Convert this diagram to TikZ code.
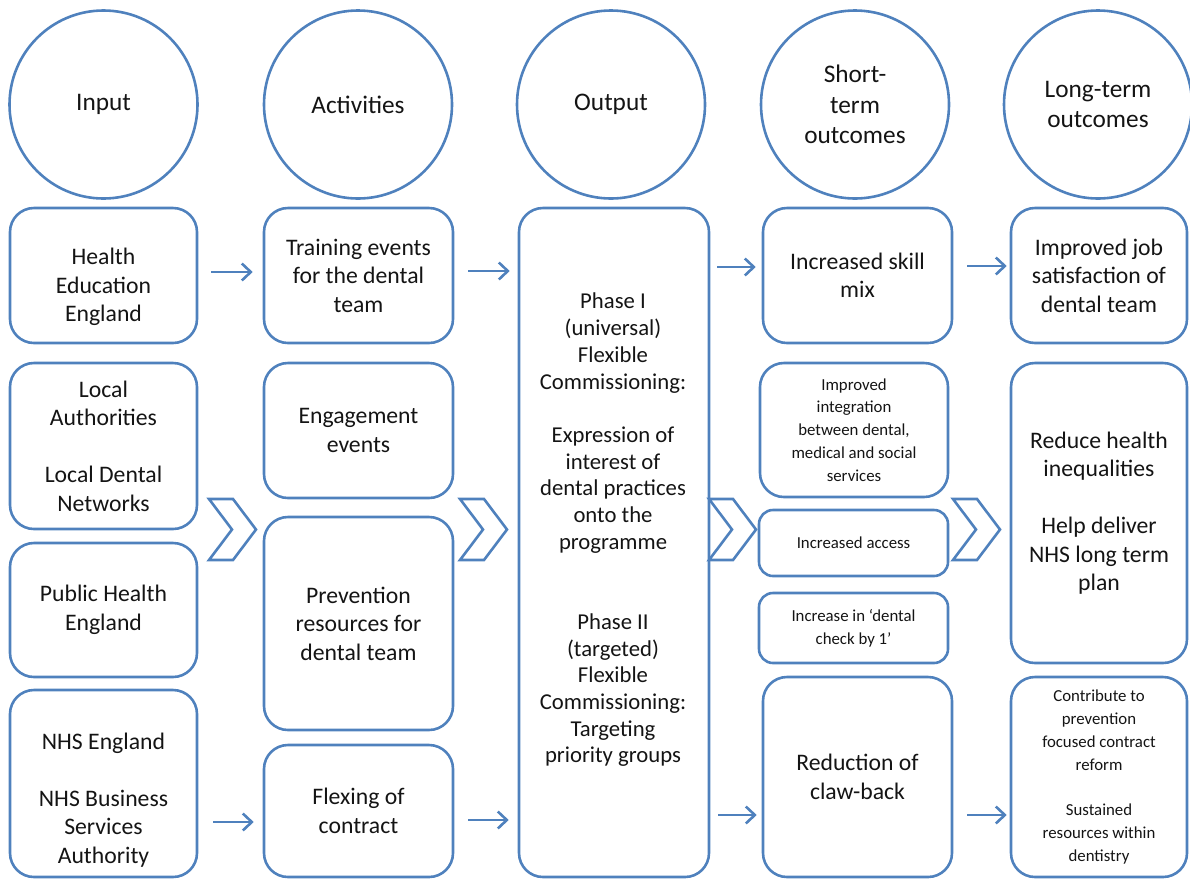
\documentclass[tikz,border=0pt]{standalone}
\usepackage{fontspec}
\setmainfont{Carlito}
\usetikzlibrary{arrows.meta}
\definecolor{bl}{RGB}{79,129,189}
\definecolor{tx}{RGB}{20,20,20}
\newcommand\RBox[6]{\node[box,minimum width={(#4)-(#2)},minimum height={(#5)-(#3)},#6] (#1) at ({((#2)+(#4))/2},{((#3)+(#5))/2})}
\begin{document}
\begin{tikzpicture}[x=1pt,y=-1pt,
  circ/.style={circle,draw=bl,line width=2.6pt,minimum size=188pt,inner sep=0pt,align=center,text=tx,font=\fontsize{25.3}{30.5}\selectfont},
  box/.style={rectangle,rounded corners=24pt,draw=bl,line width=2.6pt,inner sep=0pt,align=center,text=tx,font=\fontsize{23.7}{28.5}\selectfont},
  small/.style={font=\fontsize{16.8}{22.8}\selectfont},
  txt/.style={align=center,text=tx,inner sep=0pt,font=\fontsize{23.7}{28.5}\selectfont},
  arr/.style={draw=bl,line width=2.6pt,-{Straight Barb[length=9pt,width=17pt]}},
  chev/.style={draw=bl,line width=2.6pt,line join=miter}]
\path[use as bounding box] (0,0) rectangle (1190,879);
\clip (0,0) rectangle (1190,879);

% circles
\node[circ] (c1) at (103.5,104.5) {Input};
\node[circ] (c2) at (358,104.5) {Activities};
\node[circ] (c3) at (611,104.5) {Output};
\node[circ] (c4) at (855,104.5) {Short-\\term\\outcomes};
\node[circ] (c5) at (1098,104.5) {Long-term\\outcomes};

% input column
\RBox{in1}{10}{208}{197}{343}{}{};
\node[txt] (tin1) at (103.5,287) {Health\\Education\\England};
\RBox{in2}{10}{363}{197}{529}{}{Local\\Authorities\\[28.5pt]Local Dental\\Networks};
\RBox{in3}{10}{543}{197}{677}{}{Public Health\\England};
\RBox{in4}{10}{690}{197}{877}{}{};
\node[txt] (tin4) at (103.5,800) {NHS England\\[28.5pt]NHS Business\\Services\\Authority};

% activities column
\RBox{act1}{264}{208}{453}{343}{}{Training events\\for the dental\\team};
\RBox{act2}{264}{363}{453}{498}{}{Engagement\\events};
\RBox{act3}{264}{517}{453}{730}{}{Prevention\\resources for\\dental team};
\RBox{act4}{264}{745}{453}{877}{}{Flexing of\\contract};

% output column
\RBox{out}{519}{208}{709}{877}{}{};
\node[txt,font=\fontsize{22.7}{26.7}\selectfont] (tout) at (613,530) {Phase I\\(universal)\\Flexible\\Commissioning:\\[26.7pt]Expression of\\interest of\\dental practices\\onto the\\programme\\[53.4pt]Phase II\\(targeted)\\Flexible\\Commissioning:\\Targeting\\priority groups};

% short-term column
\RBox{st1}{763}{208}{952}{343}{}{Increased skill\\mix};
\RBox{st2}{760}{363}{948}{497}{small}{Improved\\integration\\between dental,\\medical and social\\services};
\RBox{st3}{759}{510}{948}{576}{small,rounded corners=14pt}{Increased access};
\RBox{st4}{759}{593}{948}{663}{small,rounded corners=14pt}{Increase in ‘dental\\check by 1’};
\RBox{st5}{763}{677}{952}{877}{}{Reduction of\\claw-back};

% long-term column
\RBox{lt1}{1011}{208}{1187}{343}{}{Improved job\\satisfaction of\\dental team};
\RBox{lt2}{1011}{363}{1187}{663}{}{Reduce health\\inequalities\\[28.5pt]Help deliver\\NHS long term\\plan};
\RBox{lt3}{1011}{677}{1187}{877}{small}{Contribute to\\prevention\\focused contract\\reform\\[22.8pt]Sustained\\resources within\\dentistry};

% top row arrows
\coordinate (p2) at (act1.east -| out.west);
\coordinate (p3) at (st1.west -| out.east);
\draw[arr,shorten <=13pt,shorten >=10pt] ([yshift=3.5pt]in1.east) -- ([yshift=3.5pt]act1.west);
\draw[arr,shorten <=14pt,shorten >=8pt] ([yshift=4.5pt]act1.east) -- ([yshift=4.5pt]p2);
\draw[arr,shorten <=7pt,shorten >=6pt] ([yshift=8.5pt]p3) -- ([yshift=8.5pt]st1.west);
\draw[arr,shorten <=14pt,shorten >=3pt] ([yshift=9.5pt]st1.east) -- ([yshift=9.5pt]lt1.west);

% bottom row arrows
\coordinate (r1) at (in4.east |- act4.west);
\coordinate (r2) at (act4.east -| out.west);
\coordinate (r3) at (st5.west -| out.east);
\draw[arr,shorten <=15pt,shorten >=9pt] ([yshift=-11pt]r1) -- ([yshift=-11pt]act4.west);
\draw[arr,shorten <=14pt,shorten >=9pt] ([yshift=-9pt]act4.east) -- ([yshift=-9pt]r2);
\draw[arr,shorten <=8pt,shorten >=5pt] ([yshift=-38pt]r3) -- ([yshift=-38pt]st5.west);
\draw[arr,shorten <=14pt,shorten >=3pt] ([yshift=-38pt]st5.east) -- ([yshift=-38pt]lt3.west);

% chevrons
\foreach \cx in {209,460,709,953}{
  \draw[chev] (\cx,499) -- ++(24,0) -- ++(23,30.5) -- ++(-23,30.5) -- ++(-24,0) -- ++(23,-30.5) -- cycle;
}
\end{tikzpicture}
\end{document}
